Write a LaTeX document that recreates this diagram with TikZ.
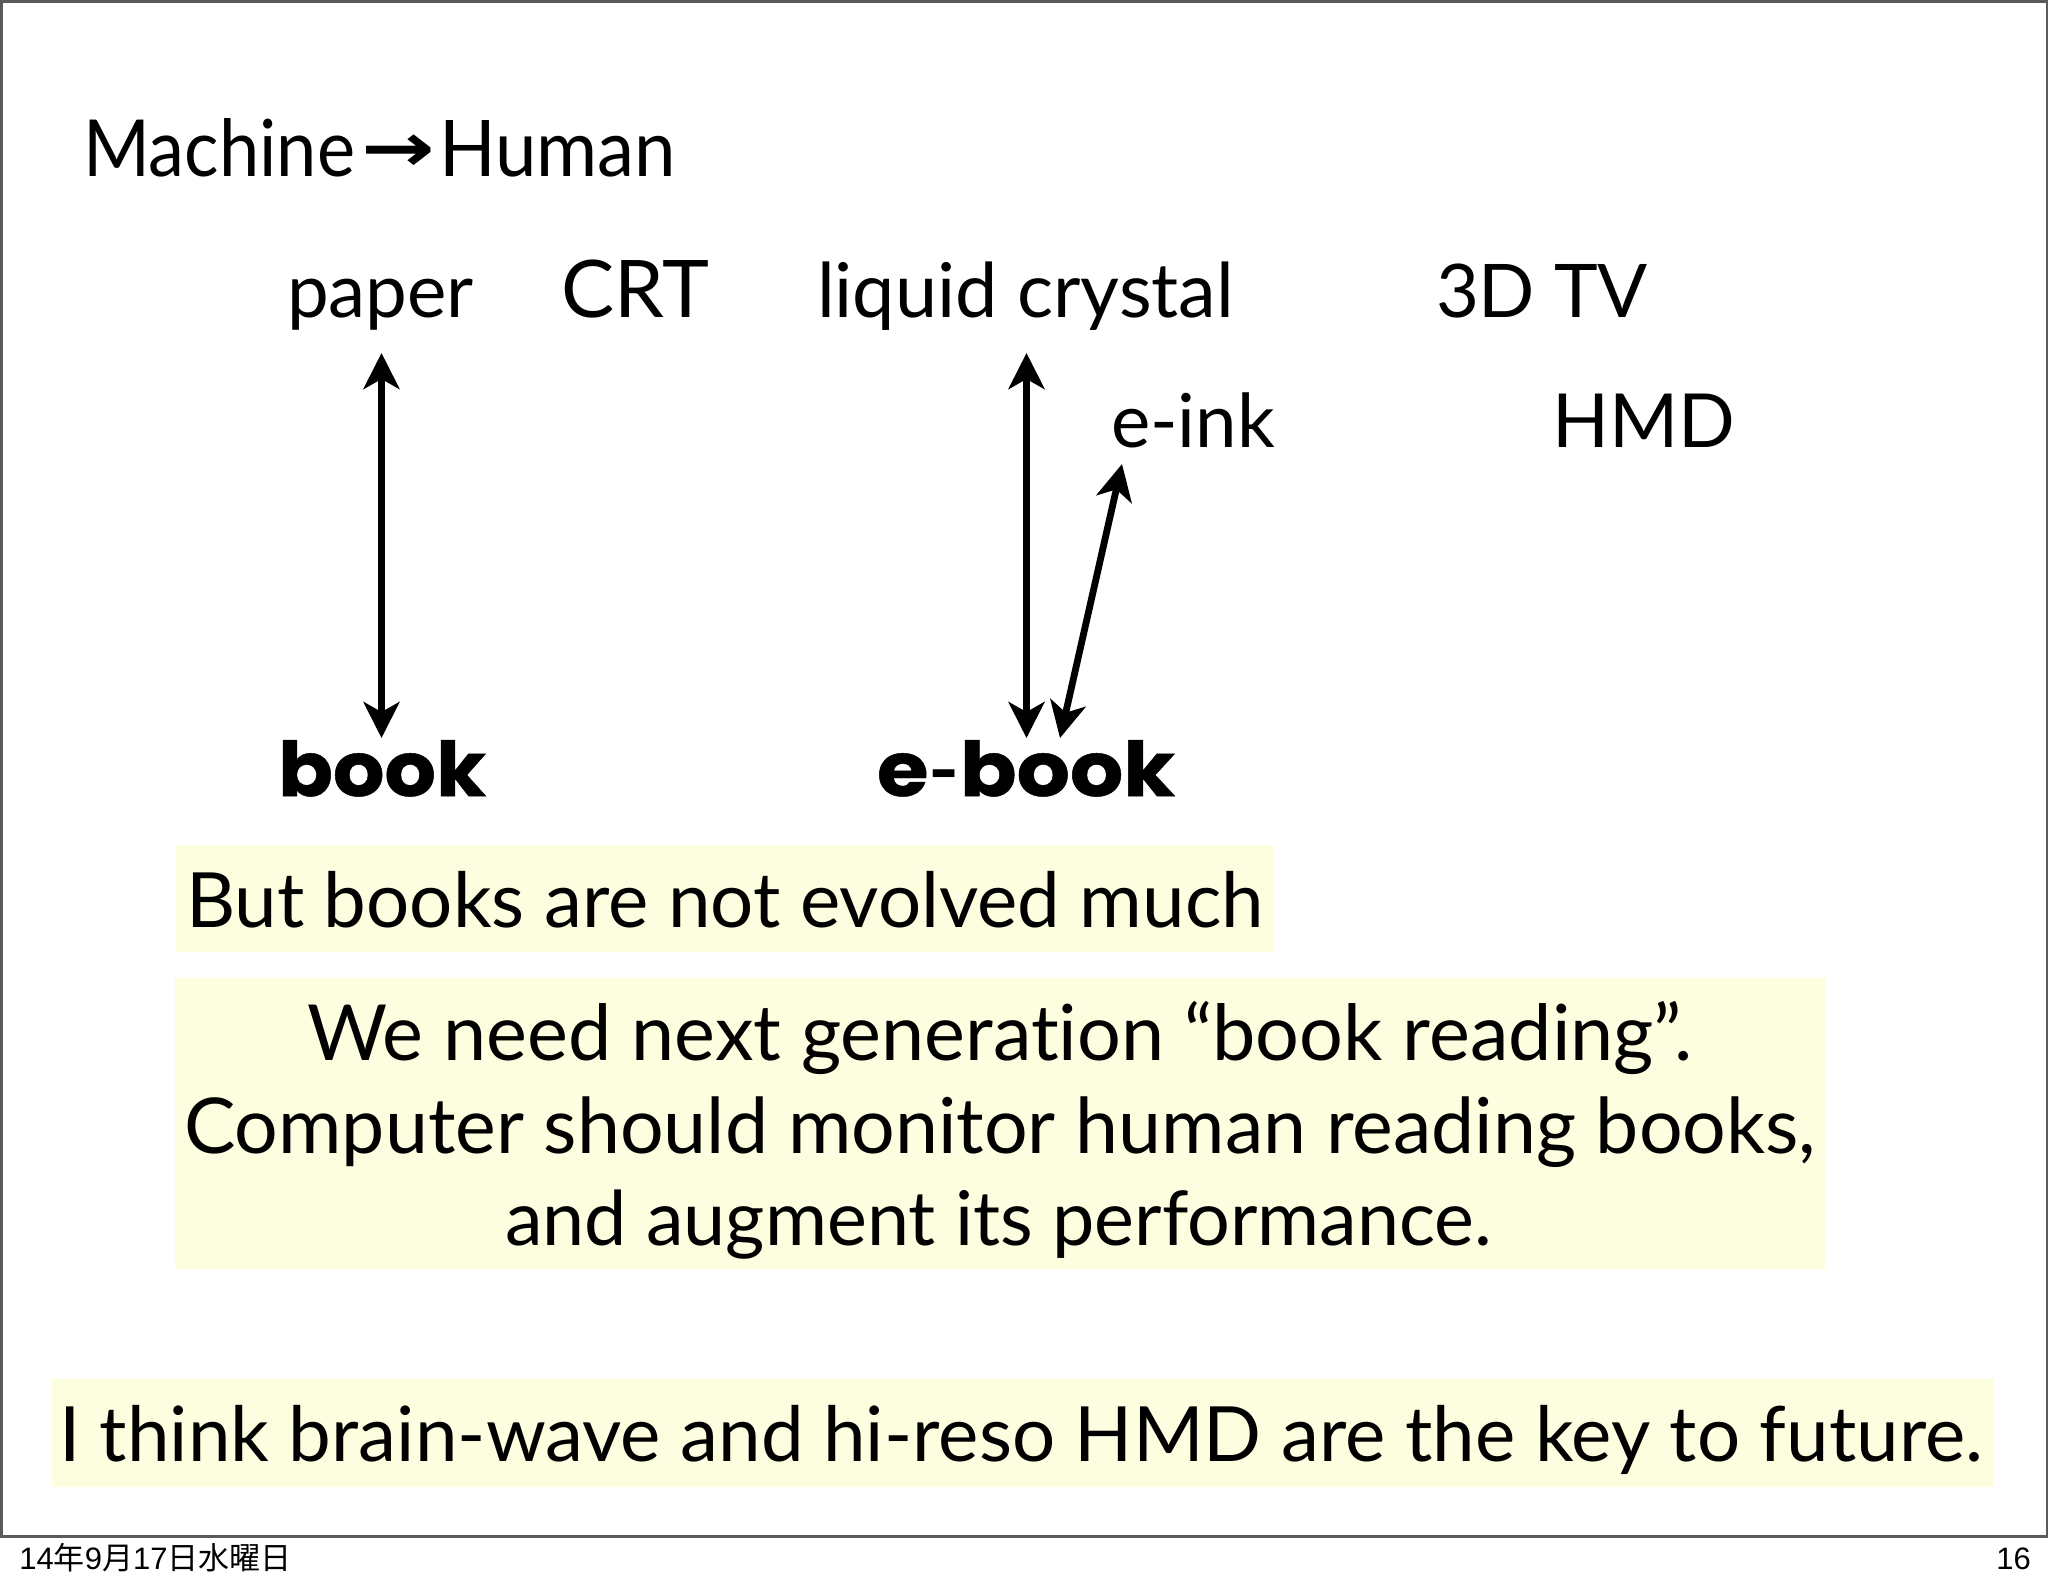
\documentclass[tikz,border=0pt]{standalone}
\usepackage{fontspec}
\usepackage{graphicx}
\setmainfont{Lato}
\newfontfamily\cjkf{Noto Sans CJK JP}
\newfontfamily\helv{Liberation Sans}
\newfontfamily\arrowf{DejaVu Sans}
\newfontfamily\heavyf[BoldFeatures={FakeBold=0.6}]{Poppins}
\usetikzlibrary{arrows.meta}
\definecolor{paleyellow}{HTML}{FDFDE0}
\definecolor{framegray}{HTML}{5A5A5A}
\newcommand{\fw}[2]{\resizebox{#1pt}{!}{\fontsize{40}{48}\selectfont #2}}
\newcommand{\fwh}[3]{\resizebox{#1pt}{#2pt}{\fontsize{40}{48}\selectfont #3}}
\tikzset{
  slidetext/.style={anchor=base west,inner sep=0pt,outer sep=0pt},
  footer/.style={anchor=base west,inner sep=0pt,font=\fontsize{15.5}{18}\selectfont\helv},
  hilite/.style={fill=paleyellow,draw=none},
  dblarrow/.style={line width=3.4pt,{Stealth[length=18pt,width=18pt,inset=5pt]}-{Stealth[length=18pt,width=18pt,inset=5pt]},black},
}
\begin{document}
\begin{tikzpicture}[x=0.5pt,y=-0.5pt]
\useasboundingbox (0,0) rectangle (2048,1587);
\fill[white] (0,0) rectangle (2048,1587);
\draw[framegray,line width=1.5pt] (1,1) rectangle (2047,1536);
\path[hilite] (176,845) rectangle (1273,952);
\path[hilite] (175,978) rectangle (1825,1269);
\path[hilite] (52,1379) rectangle (1994,1487);
\node[slidetext] (title) at (83,176) {\fwh{136}{29}{Machine}};
\node[slidetext] (titlearrow) at (361,171) {\scalebox{1.1}[0.85]{\fontsize{40}{48}\selectfont\arrowf\bfseries →}};
\node[slidetext] (titleb) at (439,176) {\fwh{118.5}{28}{Human}};
\node[slidetext] (paper) at (287,317) {\fw{93.5}{paper}};
\node[slidetext] (crt) at (561,317) {\fw{74}{CRT}};
\node[slidetext] (lc) at (817,317) {\fw{208.5}{liquid crystal}};
\node[slidetext] (tv) at (1436,317) {\fw{106}{3D TV}};
\node[slidetext] (eink) at (1111,447) {\fw{82}{e-ink}};
\node[slidetext] (hmd) at (1552,447) {\fw{91.5}{HMD}};
\node[slidetext] (book) at (278,796) {\fwh{104}{28}{\heavyf\bfseries book}};
\node[slidetext] (ebook) at (877,796) {\fwh{149}{28}{\heavyf\bfseries e{\fontspec{Lato}\bfseries-}book}};
\node[slidetext] (but) at (186,927) {\fw{539}{But books are not evolved much}};
\node[slidetext] (need) at (307,1060) {\fw{692.5}{We need next generat\kern0pt ion “book reading”.}};
\node[slidetext] (comp) at (184,1153) {\fw{816}{Computer should monitor human reading books,}};
\node[slidetext] (aug) at (505,1245) {\fw{493.5}{and augment its performance.}};
\node[slidetext] (think) at (59,1461) {\fw{962}{I think brain-wave and hi-reso HMD are the key to future.}};
\node[footer] (date) at (19,1569) {14{\cjkf 年}9{\cjkf 月}17{\cjkf 日水曜日}};
\node[footer] (page) at (1996,1569) {16};
\coordinate (paperEnd) at (381.5,353);
\coordinate (bookEnd) at (381.5,738);
\coordinate (lcEnd) at (1026.5,353);
\coordinate (ebookEnd) at (1026.5,738);
\coordinate (einkEnd) at (1122,464);
\coordinate (ebookEndB) at (1060,738);
\draw[dblarrow] (bookEnd) -- (paperEnd);
\draw[dblarrow] (ebookEnd) -- (lcEnd);
\draw[dblarrow] (ebookEndB) -- (einkEnd);
\end{tikzpicture}
\end{document}
